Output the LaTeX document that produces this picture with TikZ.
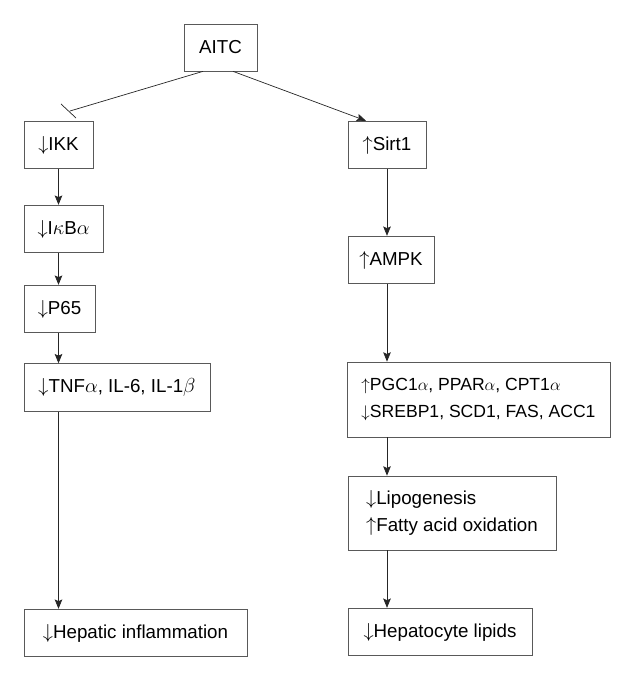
\documentclass[tikz,border=0pt]{standalone}
\usepackage{fontspec}
\setmainfont{Liberation Sans}
\usetikzlibrary{arrows.meta}

\begin{document}
\begin{tikzpicture}[x=0.03cm, y=-0.03cm,
    box/.style={draw=black!65, line width=0.6pt, inner sep=0pt,
      minimum height=1.43cm, font=\fontsize{16}{23}\selectfont},
    link/.style={draw=black!85, line width=0.6pt,
      -{Stealth[length=8pt, width=6.5pt, inset=1.5pt]}},
    block/.style={draw=black!85, line width=0.6pt}]
      \useasboundingbox (0,0) rectangle (630,681);



      \node[box, minimum width=2.19cm, minimum height=1.41cm] (aitc) at (220.5,47.5) {AITC};

      \node[box, minimum width=2.07cm] (ikk) at (58.5,145) {$\downarrow$IKK};

      \node[box, minimum width=2.34cm] (sirt) at (387,145) {$\uparrow$Sirt1};

      \coordinate (stop) at (70,111);

      \draw[block] ([xshift=-0.525cm]aitc.south) -- (stop);
      \draw[block] ([shift={(-9,-7)}]stop) -- ([shift={(6,7)}]stop);

      \draw[link] ([xshift=0.375cm]aitc.south) -- ([xshift=-0.63cm]sirt.north);



      \node[box, minimum width=2.37cm] (ikba) at (63.5,229) {$\downarrow$I$\kappa$B$\alpha$};

      \node[box, minimum width=2.13cm] (p65) at (59.5,309) {$\downarrow$P65};

      \node[box, minimum width=5.58cm] (tnf) at (117,387.5)
        {$\downarrow$TNF$\alpha$, IL-6, IL-1$\beta$};

      \node[box, minimum width=6.69cm] (inflam) at (135.5,633)
        {$\big\downarrow$Hepatic inflammation};

      \draw[link] (ikk.south) -- (ikk.south |- ikba.north);
      \draw[link] (ikk.south |- ikba.south) -- (ikk.south |- p65.north);
      \draw[link] (ikk.south |- p65.south) -- (ikk.south |- tnf.north);
      \draw[link] (ikk.south |- tnf.south) -- (ikk.south |- inflam.north);



      \node[box, minimum width=2.58cm] (ampk) at (391,260) {$\uparrow$AMPK};

      \node[box, minimum width=7.89cm, minimum height=2.25cm, align=left,
        font=\fontsize{15}{23}\selectfont] (genes) at (478.5,399.5)
        {$\uparrow$PGC1$\alpha$, PPAR$\alpha$, CPT1$\alpha$\\
        $\downarrow$SREBP1, SCD1, FAS, ACC1};

      \node[box, minimum width=6.24cm, minimum height=2.22cm, align=left] (lipo) at (452,513)
        {$\downarrow$Lipogenesis\\
        $\uparrow$Fatty acid oxidation};

      \node[box, minimum width=5.52cm] (lipids) at (440,632)
        {$\big\downarrow$Hepatocyte lipids};

      \draw[link] (sirt.south) -- (sirt.south |- ampk.north);
      \draw[link] (sirt.south |- ampk.south) -- (sirt.south |- genes.north);
      \draw[link] (sirt.south |- genes.south) -- (sirt.south |- lipo.north);
      \draw[link] (sirt.south |- lipo.south) -- (sirt.south |- lipids.north);
    \end{tikzpicture}
\end{document}
